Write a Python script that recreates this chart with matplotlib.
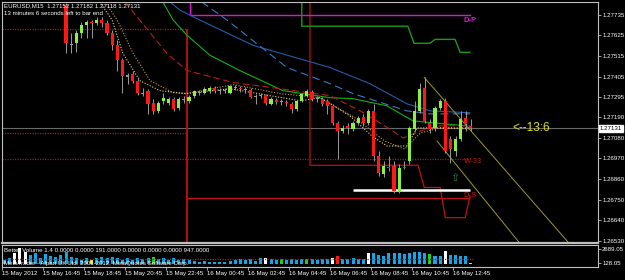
import matplotlib
matplotlib.use("Agg")
import matplotlib.pyplot as plt

plt.rcParams["font.family"] = ["Liberation Sans", "DejaVu Sans"]

# ---- candles (M15 bars, index 0 = 15 May 14:45; bars 0-11 are above the visible range)
FIRST_BAR = 12
opens = [
    1.27787, 1.27578, 1.27583, 1.27637, 1.27680, 1.27696, 1.27690, 1.27707, 1.27690, 1.27637,
    1.27572, 1.27492, 1.27411, 1.27417, 1.27384, 1.27320, 1.27331, 1.27266, 1.27223, 1.27277,
    1.27266, 1.27288, 1.27239, 1.27288, 1.27277, 1.27304, 1.27320, 1.27320, 1.27331, 1.27347,
    1.27336, 1.27336, 1.27320, 1.27352, 1.27347, 1.27341, 1.27336, 1.27304, 1.27309, 1.27309,
    1.27261, 1.27282, 1.27277, 1.27272, 1.27261, 1.27234, 1.27277, 1.27304, 1.27325, 1.27293,
    1.27288, 1.27277, 1.27250, 1.27159, 1.27116, 1.27143, 1.27127, 1.27159, 1.27191, 1.27159,
    1.27223, 1.26982, 1.26885, 1.26923, 1.26928, 1.26794, 1.26923, 1.26955, 1.27127, 1.27223,
    1.27347, 1.27159, 1.27132, 1.27239, 1.27277, 1.27073, 1.27008, 1.27073, 1.27186, 1.27143,
]
highs = [
    1.27798, 1.27637, 1.27653, 1.27696, 1.27707, 1.27707, 1.27723, 1.27723, 1.27707, 1.27653,
    1.27599, 1.27503, 1.27427, 1.27438, 1.27401, 1.27347, 1.27341, 1.27288, 1.27277, 1.27320,
    1.27298, 1.27298, 1.27298, 1.27304, 1.27309, 1.27336, 1.27336, 1.27352, 1.27358, 1.27358,
    1.27347, 1.27347, 1.27363, 1.27363, 1.27358, 1.27352, 1.27347, 1.27315, 1.27320, 1.27315,
    1.27298, 1.27293, 1.27288, 1.27282, 1.27272, 1.27282, 1.27320, 1.27341, 1.27336, 1.27304,
    1.27298, 1.27288, 1.27261, 1.27170, 1.27148, 1.27159, 1.27170, 1.27196, 1.27207, 1.27234,
    1.27261, 1.27008, 1.26955, 1.26982, 1.26955, 1.26939, 1.26955, 1.27143, 1.27277, 1.27374,
    1.27401, 1.27180, 1.27250, 1.27288, 1.27293, 1.27089, 1.27089, 1.27223, 1.27223, 1.27180,
]
lows = [
    1.27529, 1.27529, 1.27535, 1.27610, 1.27610, 1.27610, 1.27680, 1.27669, 1.27626, 1.27545,
    1.27438, 1.27320, 1.27368, 1.27374, 1.27309, 1.27304, 1.27207, 1.27207, 1.27213, 1.27261,
    1.27256, 1.27223, 1.27229, 1.27266, 1.27266, 1.27293, 1.27309, 1.27315, 1.27320, 1.27320,
    1.27315, 1.27320, 1.27315, 1.27336, 1.27325, 1.27320, 1.27293, 1.27261, 1.27293, 1.27256,
    1.27256, 1.27261, 1.27256, 1.27250, 1.27213, 1.27223, 1.27272, 1.27298, 1.27277, 1.27272,
    1.27250, 1.27207, 1.27148, 1.26966, 1.27105, 1.27100, 1.27116, 1.27148, 1.27143, 1.27148,
    1.26955, 1.26874, 1.26869, 1.26901, 1.26783, 1.26783, 1.26912, 1.26939, 1.27116, 1.27213,
    1.27159, 1.27105, 1.27116, 1.27229, 1.26998, 1.26944, 1.26982, 1.27062, 1.27116, 1.27116,
]
closes = [
    1.27583, 1.27572, 1.27637, 1.27680, 1.27696, 1.27690, 1.27707, 1.27690, 1.27637, 1.27572,
    1.27492, 1.27411, 1.27406, 1.27384, 1.27320, 1.27315, 1.27261, 1.27223, 1.27266, 1.27293,
    1.27288, 1.27234, 1.27288, 1.27282, 1.27298, 1.27331, 1.27325, 1.27341, 1.27347, 1.27331,
    1.27331, 1.27331, 1.27358, 1.27347, 1.27341, 1.27336, 1.27298, 1.27298, 1.27304, 1.27266,
    1.27288, 1.27272, 1.27272, 1.27266, 1.27234, 1.27277, 1.27315, 1.27331, 1.27288, 1.27288,
    1.27261, 1.27250, 1.27159, 1.27116, 1.27132, 1.27132, 1.27159, 1.27186, 1.27159, 1.27223,
    1.26982, 1.26890, 1.26928, 1.26917, 1.26794, 1.26917, 1.26917, 1.27132, 1.27223, 1.27341,
    1.27170, 1.27127, 1.27239, 1.27277, 1.27008, 1.27019, 1.27073, 1.27180, 1.27153, 1.27131,
]

# ---- moving averages (bar index, price)
ma_yellow_x = [18.6, 21.0, 23.1, 26.4, 30.3, 35.2, 44.0, 51.8, 57.7, 61.6, 67.4, 71.7, 74.6, 78.5, 80.5, 83.0, 90.8]
ma_yellow_y = [1.27803, 1.27707, 1.27529, 1.27384, 1.27331, 1.27315, 1.27341, 1.27304, 1.27277,
               1.27293, 1.27196, 1.27089, 1.27036, 1.27036, 1.27132, 1.27132, 1.27132]
ma_tan_x = [19.6, 22.0, 25.1, 28.4, 32.9, 35.6, 44.6, 53.8, 61.6, 68.4, 74.2, 78.1, 81.1, 85.0, 90.8]
ma_tan_y = [1.27803, 1.27707, 1.27529, 1.27384, 1.27320, 1.27315, 1.27363, 1.27315, 1.27293,
            1.27186, 1.27062, 1.27019, 1.27105, 1.27132, 1.27127]
ma_red_x = [23.5, 31.7, 35.6, 44.6, 53.8, 63.5, 69.4, 74.2, 77.8, 81.1, 85.0, 90.8]
ma_red_y = [1.27803, 1.27529, 1.27438, 1.27374, 1.27341, 1.27304, 1.27223, 1.27143, 1.27078,
            1.27116, 1.27143, 1.27143]
ma_green_x = [30.9, 32.9, 35.6, 40.1, 45.9, 54.3, 63.5, 68.0, 74.6, 79.7, 83.6, 90.2]
ma_green_y = [1.27803, 1.27707, 1.27626, 1.27519, 1.27438, 1.27331, 1.27293, 1.27288, 1.27250,
              1.27170, 1.27159, 1.27143]
ma_blue_x = [32.3, 34.2, 38.1, 48.5, 63.5, 71.3, 78.5, 83.0, 90.8]
ma_blue_y = [1.27803, 1.27760, 1.27707, 1.27572, 1.27454, 1.27368, 1.27261, 1.27223, 1.27213]
ma_blue2_x = [38.5, 43.4, 55.1, 63.5, 68.0, 78.5, 83.0, 90.8]
ma_blue2_y = [1.27803, 1.27707, 1.27454, 1.27368, 1.27315, 1.27223, 1.27207, 1.27207]

# ---- indicator levels
green_step_x = [58.0, 58.0, 78.7, 79.9, 83.0, 84.0, 87.9, 88.9, 90.8]
green_step_y = [1.2790, 1.27674, 1.27674, 1.27583, 1.27583, 1.27604, 1.27604, 1.27535, 1.27535]
red_step_x = [59.6, 59.6, 80.7, 81.9, 85.0, 86.0, 89.9, 90.8]
red_step_y = [1.2790, 1.26933, 1.26933, 1.26815, 1.26815, 1.26654, 1.26654, 1.26767]
level_top = 1.27658
level_mid = 1.27105
level_w33 = 1.26966
level_dp = 1.27733
level_ds = 1.26761
level_white = 1.26799
last_price = 1.27131
split_bar = 35.6
fork_a = ([81.9, 111.3], [1.27401, 1.26482])
fork_b = ([84.4, 101.6], [1.27062, 1.26482])

price_ticks = [1.27735, 1.27625, 1.27515, 1.27405, 1.27295, 1.27190, 1.27080,
               1.26970, 1.26860, 1.26750, 1.26640, 1.26530]

# ---- Better Volume
volumes = [
    680, 990, 1900, 2930, 2190, 1590, 1900, 1040, 1700, 1410,
    1280, 1590, 2190, 1280, 990, 680, 990, 680, 990, 1280,
    990, 1280, 990, 680, 990, 680, 990, 800, 990, 1280,
    800, 990, 680, 990, 680, 800, 680, 490, 370, 490,
    370, 260, 370, 370, 490, 680, 800, 680, 800, 490,
    990, 990, 800, 680, 800, 680, 800, 680, 800, 800,
    800, 680, 800, 800, 990, 1410, 800, 800, 990, 800,
    800, 1900, 2000, 1590, 1410, 1900, 1900, 1900, 1770, 1900,
    2080, 2080, 1900, 1700, 1410, 1410, 2320, 1590, 1590, 1410,
    1460, 191,
]
white_vol = [2, 3, 4, 51, 64, 71, 86]
green_vol = [29, 54, 59, 83]
red_vol = [65]
yellow_vol = [17, 91]
vol_avg = 947

time_labels = ["15 May 2012", "15 May 16:45", "15 May 18:45", "15 May 20:45", "15 May 22:45",
               "16 May 00:45", "16 May 02:45", "16 May 04:45", "16 May 06:45", "16 May 08:45",
               "16 May 10:45", "16 May 12:45"]

UP = "#8cf040"
DOWN = "#ff1818"
WICK = "#9a9a9a"
FRAME = "#c0c0c0"
FS = 4.4

W, H = 625, 280
fig = plt.figure(figsize=(W / 100, H / 100), dpi=100, facecolor="black")


def box(x0, y0, x1, y1):
    return [x0 / W, 1 - y1 / H, (x1 - x0) / W, (y1 - y0) / H]


ax = fig.add_axes(box(2, 2, 598, 243))
vax = fig.add_axes(box(2, 245, 598, 267))
xlim = (-0.49, 115.8)

for a in (ax, vax):
    a.set_facecolor("black")
    a.set_xlim(*xlim)
    for s in a.spines.values():
        s.set_color(FRAME)
        s.set_linewidth(0.8)
ax.spines["bottom"].set_linewidth(1.6)

ax.set_ylim(1.26519, 1.27803)

# levels behind the candles
ax.axhline(last_price, color="#6a6a6a", lw=0.8)
ax.hlines(level_top, xlim[0], split_bar, color="#a01818", lw=0.9, linestyles=(0, (1, 1)))
ax.hlines(level_mid, xlim[0], split_bar - 0.2, color="#a01818", lw=0.9, linestyles=(0, (1, 1)))
ax.vlines(split_bar - 0.2, 1.2651, level_mid, color="#a01818", lw=0.9, linestyles=(0, (1, 1)))
ax.hlines(level_w33, xlim[0], 90.8, color="#a01818", lw=0.9, linestyles=(0, (1, 1)))
ax.vlines(split_bar, 1.2651, level_top, color="#c01010", lw=1.3)
ax.hlines(level_ds, split_bar, 90.8, color="#c01010", lw=0.9)
ax.plot(red_step_x, red_step_y, color="#c01010", lw=0.9)
ax.plot(green_step_x, green_step_y, color="#1a9a1a", lw=1.0)
ax.plot([36.2, 36.2, 90.8], [1.2790, level_dp, level_dp], color="#e010e0", lw=1.0)
ax.hlines(level_white, 68.0, 90.8, color="white", lw=1.8)

# moving averages
ax.plot(ma_blue_x, ma_blue_y, color="#2a5aa8", lw=0.8)
ax.plot(ma_blue2_x, ma_blue2_y, color="#3a78c8", lw=0.8, dashes=(7, 4))
ax.plot(ma_green_x, ma_green_y, color="#18b018", lw=0.8)
ax.plot(ma_red_x, ma_red_y, color="#c01818", lw=0.8, dashes=(6, 3))
ax.plot(ma_tan_x, ma_tan_y, color="#c89a4a", lw=0.8, dashes=(1, 1.5))
ax.plot(ma_yellow_x, ma_yellow_y, color="#e8dc70", lw=0.8, dashes=(1, 1.5))

# pitchfork lines
ax.plot(*fork_a, color="#9a9a30", lw=0.7)
ax.plot(*fork_b, color="#9a9a30", lw=0.7)

# candles
idx = list(range(FIRST_BAR, FIRST_BAR + len(closes)))
ax.vlines(idx, lows, highs, color=WICK, lw=0.7, zorder=3)
bottoms, heights, colors = [], [], []
for o, c in zip(opens, closes):
    lo, hi = min(o, c), max(o, c)
    if hi - lo < 0.00006:
        mid = (o + c) / 2
        lo, hi = mid - 0.00003, mid + 0.00003
        colors.append(WICK)
    else:
        colors.append(UP if c > o else DOWN)
    bottoms.append(lo)
    heights.append(hi - lo)
ax.bar(idx, heights, bottom=bottoms, width=0.62, color=colors, lw=0, zorder=4)

# labels in the chart
ax.text(89.6, level_dp - 0.00028, "D-P", color="#e010e0", fontsize=5.5, fontweight="bold", va="center")
ax.text(89.6, level_w33 - 0.00012, "W-33", color="#c01818", fontsize=5.5, va="center")
ax.text(89.6, level_ds + 0.0001, "D-S", color="#c01818", fontsize=5.5, va="center")
ax.text(87.9, 1.26864, "\u21e7", color="#1f7a55", fontsize=8, ha="center", va="center",
        family="DejaVu Sans", zorder=5)
ax.text(99.0, last_price, "<--13:6", color="#e0e020", fontsize=8.5, ha="left", va="center")

# right price scale
ax.yaxis.tick_right()
ax.set_yticks(price_ticks)
ax.set_yticklabels([f"{p:.5f}" for p in price_ticks])
ax.tick_params(axis="y", colors=FRAME, labelcolor="white", labelsize=FS, length=2, width=0.6, pad=1)
ax.set_xticks([])
ax.text(1.003, last_price, f"{last_price:.5f}", transform=ax.get_yaxis_transform(),
        fontsize=FS, color="black", va="center", ha="left",
        bbox=dict(boxstyle="square,pad=0.15", fc="white", ec="white"))

# volume window
vcolors = []
for i in range(len(volumes)):
    if i in white_vol:
        vcolors.append("white")
    elif i in green_vol:
        vcolors.append("#20d020")
    elif i in red_vol:
        vcolors.append("#ff1818")
    elif i in yellow_vol:
        vcolors.append("#e0e020")
    else:
        vcolors.append("#10a8e8")
vax.bar(range(len(volumes)), volumes, width=0.6, color=vcolors, lw=0)
vax.hlines(vol_avg, -0.5, len(volumes) - 0.5, color="#c01818", lw=0.9, linestyles=(0, (1, 1)))
vax.set_ylim(-604, 3422)
vax.yaxis.tick_right()
vax.set_yticks([128.05, 2689.05])
vax.set_yticklabels(["128.05", "2689.05"])
vax.tick_params(axis="y", colors=FRAME, labelcolor="white", labelsize=FS, length=2, width=0.6, pad=1)
vax.set_xticks([8 * k - 0.5 for k in range(len(time_labels))])
vax.set_xticklabels(time_labels)
vax.tick_params(axis="x", colors=FRAME, labelcolor="white", labelsize=FS, length=2.5, width=0.6, pad=0.5)
for lab in vax.get_xticklabels():
    lab.set_horizontalalignment("left")

vax.text(0.004, 0.86, "Better Volume 1.4 0.0000 0.0000 191.0000 0.0000 0.0000 0.0000 947.0000",
         transform=vax.transAxes, color="white", fontsize=FS, va="top", ha="left")
vax.text(0.003, 0.14, "MetaTrader - Alpari UK Ltd. 2001-2012, MetaQuotes Software Corp.",
         transform=vax.transAxes, color="white", fontsize=FS, va="center", ha="left", zorder=5)

fig.text(4 / W, 1 - 3 / H, "EURUSD,M15  1.27152 1.27182 1.27118 1.27131",
         color="white", fontsize=FS, va="top", ha="left")
fig.text(4 / W, 1 - 11 / H, "13 minutes 6 seconds left to bar end",
         color="white", fontsize=FS, va="top", ha="left")

fig.savefig("out.png", dpi=100, facecolor="black")
